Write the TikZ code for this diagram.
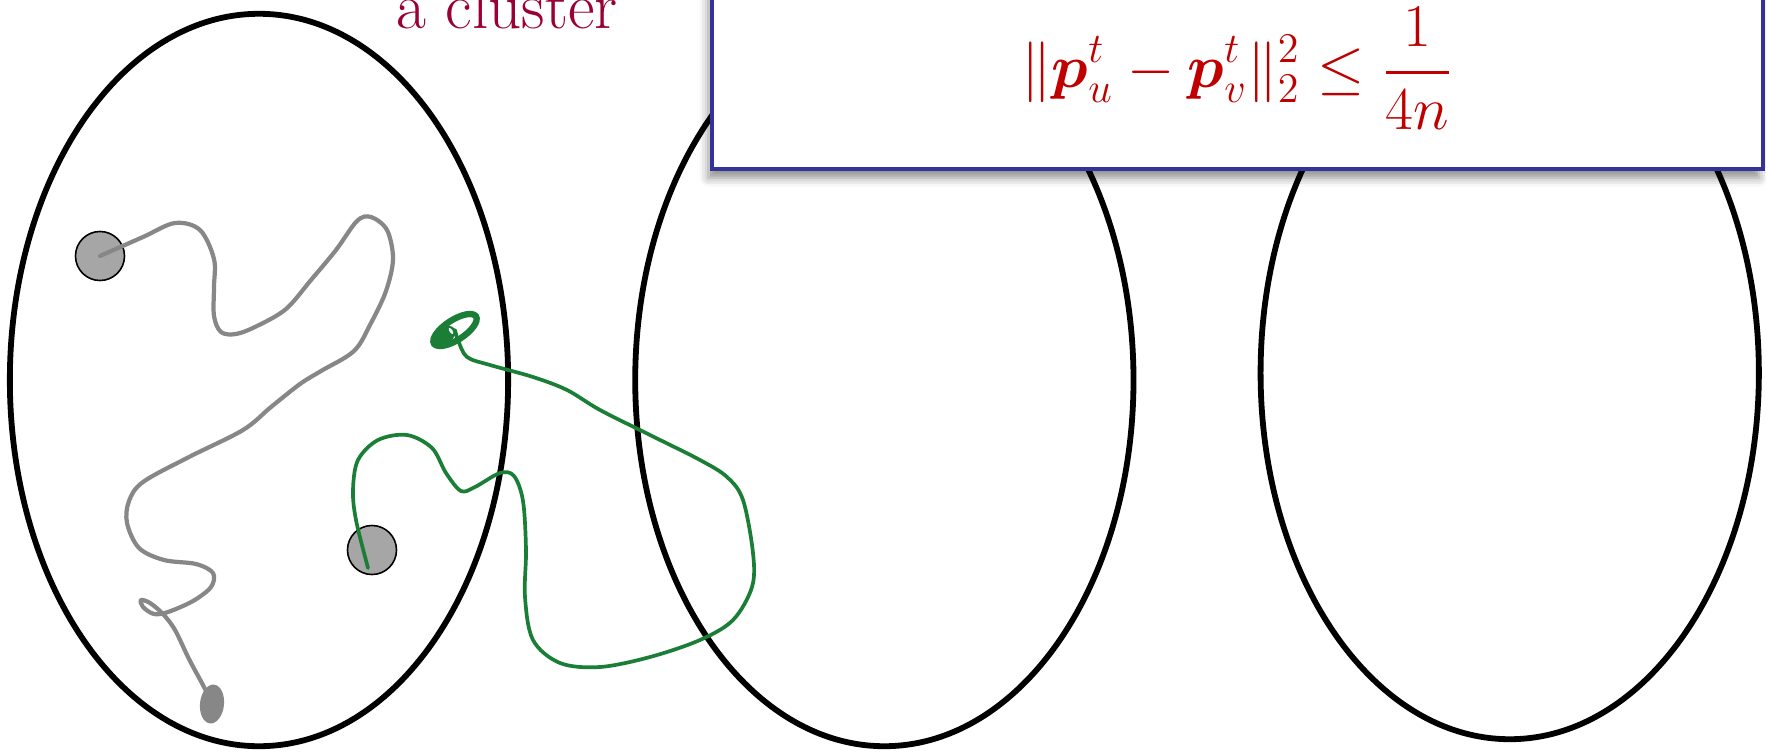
\documentclass[tikz,border=0pt]{standalone}
\usepackage{amssymb}
\usepackage{amsmath}
\usepackage{tikz}
\usepackage{xcolor}
\usetikzlibrary{positioning, shapes.geometric, shadows.blur}

\definecolor{walkgray}{HTML}{878787}
\definecolor{dotgray}{HTML}{A6A6A6}
\definecolor{walkgreen}{HTML}{1A7E36}
\definecolor{boxblue}{HTML}{333399}
\definecolor{clusterred}{HTML}{990033}
\definecolor{mathred}{HTML}{C00000}

\tikzset{
  cluster/.style={ellipse, draw, line width=1.65pt, minimum width=4.98cm, minimum height=7.32cm, inner sep=0pt, outer sep=0pt},
  vertex/.style={circle, draw, fill=dotgray, line width=0.45pt, minimum size=0.49cm, inner sep=0pt},
  walk/.style={line width=1.2pt, line cap=round, line join=round},
}

\begin{document}
\begin{tikzpicture}[x=0.01cm, y=-0.01cm]
        \useasboundingbox (0,0) rectangle (1766,751);
        \node[cluster] (C1) at (259,380) {};
        \node[cluster, right=1.27cm of C1] (C2) {};
        \node[cluster, right=1.27cm of C2, yshift=0.07cm] (C3) {};

        \node[vertex] (u) at (100,256) {};
        \node[vertex] (v) at (372,550) {};
        \node[ellipse, fill=walkgray, minimum width=0.24cm, minimum height=0.39cm, inner sep=0pt, rotate=-6] (end) at (212,704) {};
        \coordinate (vstart) at (368,568);

        % the loop where the second walk stops
        \node[ellipse, draw=walkgreen, line width=1.8pt, minimum width=0.5cm, minimum height=0.2cm, inner sep=0pt, rotate=33] (loop) at (455,330) {};
        \node[ellipse, fill=walkgreen, minimum width=0.23cm, minimum height=0.16cm, inner sep=0pt, rotate=33] (knot) at (445,335) {};
        \node[ellipse, fill=white, minimum width=0.03cm, minimum height=0.07cm, inner sep=0pt, rotate=33] (hole) at (451,331) {};

        \draw[walk, walkgray] plot[smooth, tension=0.55] coordinates {(u.center) (143,237) (175,223) (200,230) (214,259) (214,287) (214,316) (221,332) (236,334) (257,326) (286,309) (311,280) (336,250) (357,221) (371,217) (387,230) (393,259) (386,291) (371,323) (354,351) (321,371) (300,384) (271,407) (243,430) (189,457) (143,482) (129,501) (127,523) (139,548) (164,560) (196,564) (213,573) (211,587) (193,601) (168,612) (154,614) (143,607) (141,600) (150,603) (163,614) (175,630) (189,659) (204,687) (end.center)};
        \draw[walk, walkgreen, line width=1.05pt] plot[smooth, tension=0.55] coordinates {(vstart) (356,520) (353,490) (358,460) (378,440) (407,435) (432,448) (446,473) (461,491) (475,487) (500,473) (514,476) (523,501) (526,550) (525,597) (533,640) (560,663) (600,667) (650,657) (700,640) (733,620) (752,587) (753,553) (743,500) (727,477) (700,460) (650,435) (600,410) (567,390) (533,377) (490,365) (467,357) (458,340) (loop.center)};

        \node[draw=boxblue, fill=white, line width=1.1pt, minimum width=10.5cm, minimum height=2.2cm, anchor=south west, inner sep=0pt, outer sep=0pt,
              blur shadow={shadow xshift=-1pt, shadow yshift=-2.5pt, shadow blur radius=2.5pt, shadow opacity=45}] (box) at (712,169) {};
        \node[above=0.39cm of box.south, inner sep=0pt, text=mathred, font=\fontsize{16.5}{20}\selectfont] (gap)
              {$\displaystyle \|\boldsymbol{p}_u^t-\boldsymbol{p}_v^t\|_2^2\le\frac{1}{4n}$};
        \node[anchor=base, inner sep=0pt, text=clusterred, font=\fontsize{18.5}{20}\selectfont] (label) at (507,28) {a cluster};
\end{tikzpicture}
\end{document}
